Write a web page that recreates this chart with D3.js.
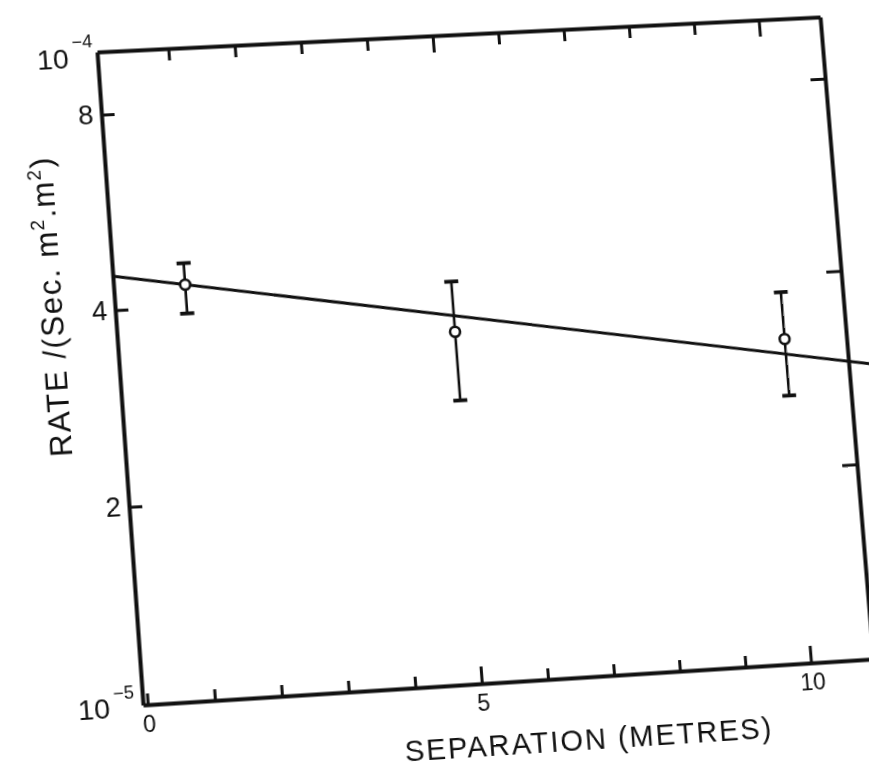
<!DOCTYPE html>
<html>
<head>
<meta charset="UTF-8">
<title>Rate vs separation</title>
<script src="https://cdn.jsdelivr.net/npm/d3@7"></script>
<style>
  body { margin: 0; background: #fff; overflow: hidden; }
  svg { display: block; overflow: visible; transform-origin: 0 0; }
  text { font-family: "Liberation Sans", Arial, sans-serif; fill: #111; }
</style>
</head>
<body>
<svg id="chart" width="869" height="769"></svg>
<script>
// data
var sepX   = [1, 5, 10];                       // separation (metres)
var rate   = [4.32e-5, 3.47e-5, 3.17e-5];      // measured rate
var rateHi = [4.66e-5, 4.15e-5, 3.75e-5];      // upper end of error bar
var rateLo = [3.90e-5, 2.72e-5, 2.59e-5];      // lower end of error bar
var fitX   = [-0.07, 11.3];                    // fitted line ends
var fitY   = [4.51e-5, 2.85e-5];
var xTicks = [0, 1, 2, 3, 4, 5, 6, 7, 8, 9, 10];
var yTicks = [2e-5, 4e-5, 8e-5];

// plot frame (before the page-skew transform)
var sx = 97, sy = 52, W = 728, H = 650;

var svg = d3.select('#chart');

var x = d3.scaleLinear().domain([-0.07, 10.95]).range([sx, sx + W]);
var y = d3.scaleLog().domain([1e-5, 1e-4]).range([sy + H, sy]);

function styleAxis(g) {
    g.select('.domain').attr('stroke', '#111').attr('stroke-width', 4);
    g.selectAll('.tick line').attr('stroke', '#111').attr('stroke-width', 3);
    g.selectAll('.tick text').attr('fill', '#111');
    g.attr('font-family', '"Liberation Sans", Arial, sans-serif');
}

// bottom axis
svg.append('g')
    .attr('transform', 'translate(0,' + (sy + H) + ')')
    .call(d3.axisBottom(x).tickValues(xTicks).tickSizeInner(-11).tickSizeOuter(0).tickPadding(11)
        .tickFormat(function (d) { return d % 5 === 0 ? d : ''; }))
    .attr('font-size', 23)
    .call(styleAxis)
    .call(function (g) {
        g.selectAll('.tick line').attr('y2', function (d) { return d > 0 && d % 5 === 0 ? -17 : -11; });
    });

// top axis
svg.append('g')
    .attr('transform', 'translate(0,' + sy + ')')
    .call(d3.axisTop(x).tickValues(xTicks.slice(1)).tickSizeInner(-12).tickSizeOuter(0).tickFormat(''))
    .call(styleAxis)
    .call(function (g) {
        g.selectAll('.tick line').attr('y2', function (d) { return d % 5 === 0 ? 17 : 12; });
    });

// left axis
svg.append('g')
    .attr('transform', 'translate(' + sx + ',0)')
    .call(d3.axisLeft(y).tickValues(yTicks).tickSizeInner(-13).tickSizeOuter(0).tickPadding(8)
        .tickFormat(function (d) { return Math.round(d * 1e5); }))
    .attr('font-size', 27)
    .call(styleAxis);

// right axis
svg.append('g')
    .attr('transform', 'translate(' + (sx + W) + ',0)')
    .call(d3.axisRight(y).tickValues(yTicks).tickSizeInner(-15).tickSizeOuter(0).tickFormat(''))
    .call(styleAxis);

// decade labels
function decade(px, py, exp, rise) {
    var t = svg.append('text')
        .attr('x', px).attr('y', py)
        .attr('text-anchor', 'end')
        .attr('font-size', 28)
        .text('10');
    t.append('tspan').attr('dx', 4).attr('dy', -rise).attr('font-size', 18).text('\u2212' + exp);
}
decade(sx - 4, sy + 15, 4, 20);
decade(sx - 8, sy + H + 11, 5, 18);

// fitted line
var line = d3.line()
    .x(function (d) { return x(d[0]); })
    .y(function (d) { return y(d[1]); });

svg.append('path')
    .datum(d3.zip(fitX, fitY))
    .attr('d', line)
    .attr('fill', 'none')
    .attr('stroke', '#111')
    .attr('stroke-width', 3);

// error bars
var pts = sepX.map(function (s, i) { return { s: s, r: rate[i], hi: rateHi[i], lo: rateLo[i] }; });
var bars = svg.append('g').attr('stroke', '#111');

bars.selectAll('line.bar').data(pts).enter().append('line')
    .attr('class', 'bar')
    .attr('x1', function (d) { return x(d.s); })
    .attr('x2', function (d) { return x(d.s); })
    .attr('y1', function (d) { return y(d.hi); })
    .attr('y2', function (d) { return y(d.lo); })
    .attr('stroke-width', 2.6);

['hi', 'lo'].forEach(function (k) {
    bars.selectAll('line.cap-' + k).data(pts).enter().append('line')
        .attr('class', 'cap-' + k)
        .attr('x1', function (d) { return x(d.s) - 7; })
        .attr('x2', function (d) { return x(d.s) + 7; })
        .attr('y1', function (d) { return y(d[k]); })
        .attr('y2', function (d) { return y(d[k]); })
        .attr('stroke-width', 3.8);
});

bars.selectAll('circle').data(pts).enter().append('circle')
    .attr('cx', function (d) { return x(d.s); })
    .attr('cy', function (d) { return y(d.r); })
    .attr('r', 5)
    .attr('fill', '#fff')
    .attr('stroke-width', 2.6);

// axis titles
var yt = svg.append('text')
    .attr('transform', 'translate(' + (sx - 52) + ',' + (sy + 252) + ') rotate(-90)')
    .attr('text-anchor', 'middle')
    .attr('font-size', 31)
    .attr('textLength', 298)
    .attr('lengthAdjust', 'spacing');
yt.append('tspan').text('RATE /(Sec. m');
yt.append('tspan').attr('dy', -12).attr('font-size', 19).text('2');
yt.append('tspan').attr('dy', 12).text('.m');
yt.append('tspan').attr('dy', -12).attr('font-size', 19).text('2');
yt.append('tspan').attr('dy', 12).text(')');

svg.append('text')
    .attr('x', sx + 0.6 * W)
    .attr('y', sy + H + 72)
    .attr('text-anchor', 'middle')
    .attr('font-size', 29)
    .attr('textLength', 366)
    .attr('lengthAdjust', 'spacing')
    .text('SEPARATION (METRES)');

// the scanned page is skewed a little: map the frame onto its four corners
function squareToQuad(p) {
    var sxx = p[0][0] - p[1][0] + p[2][0] - p[3][0];
    var syy = p[0][1] - p[1][1] + p[2][1] - p[3][1];
    var dx1 = p[1][0] - p[2][0], dx2 = p[3][0] - p[2][0];
    var dy1 = p[1][1] - p[2][1], dy2 = p[3][1] - p[2][1];
    var den = dx1 * dy2 - dx2 * dy1;
    var g = (sxx * dy2 - dx2 * syy) / den;
    var h = (dx1 * syy - sxx * dy1) / den;
    return [
        [p[1][0] - p[0][0] + g * p[1][0], p[3][0] - p[0][0] + h * p[3][0], p[0][0]],
        [p[1][1] - p[0][1] + g * p[1][1], p[3][1] - p[0][1] + h * p[3][1], p[0][1]],
        [g, h, 1]
    ];
}
var q = squareToQuad([[97, 52], [820, 17], [873, 659], [143, 705]]);
var M = q.map(function (r) {
    return [r[0] / W, r[1] / H, r[2] - r[0] * sx / W - r[1] * sy / H];
});
svg.style('transform', 'matrix3d(' + [
    M[0][0], M[1][0], 0, M[2][0],
    M[0][1], M[1][1], 0, M[2][1],
    0, 0, 1, 0,
    M[0][2], M[1][2], 0, M[2][2]
].join(',') + ')');
</script>
</body>
</html>
